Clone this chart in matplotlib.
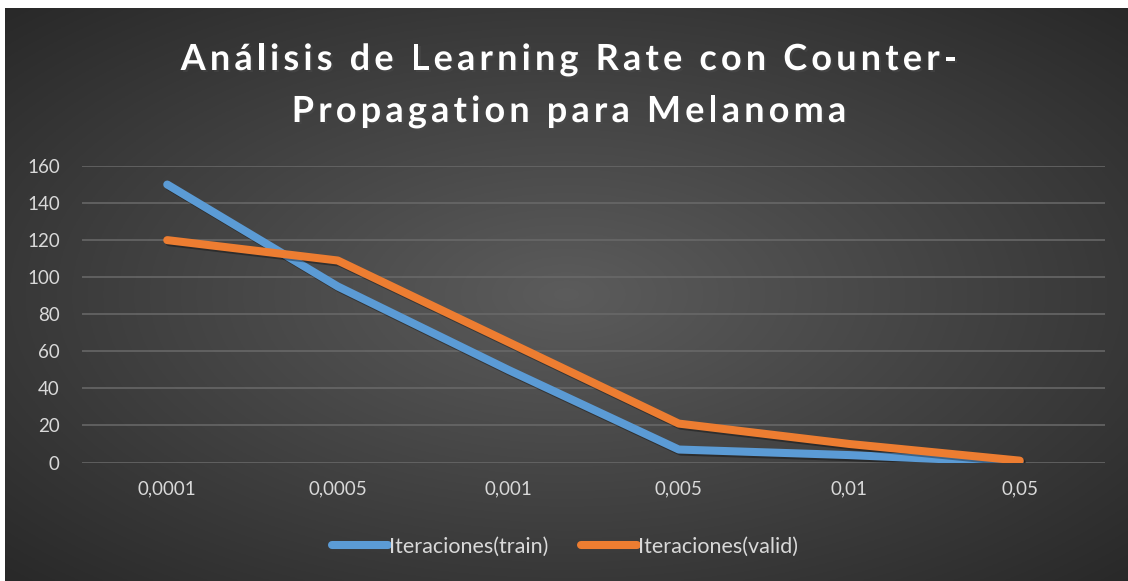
import numpy as np
import matplotlib
matplotlib.use('Agg')
import matplotlib.pyplot as plt
import matplotlib.patheffects as pe
from matplotlib.textpath import TextPath
from matplotlib.patches import PathPatch
from matplotlib.font_manager import FontProperties, findfont, get_font

# data
learning_rates = ['0,0001', '0,0005', '0,001', '0,005', '0,01', '0,05']
iter_train = [150, 95, 50, 7, 4, 0]
iter_valid = [120, 109, 65, 21, 10, 1]
y_ticks = [0, 20, 40, 60, 80, 100, 120, 140, 160]
title_lines = ['Análisis de Learning Rate con Counter-', 'Propagation para Melanoma']

plt.rcParams['font.family'] = ['Lato', 'DejaVu Sans']

W, H = 1128, 581
fig = plt.figure(figsize=(W / 100, H / 100), dpi=100)
fig.patch.set_facecolor('white')

# dark radial gradient background (Excel style)
bg = fig.add_axes([5 / W, 0, 1 - 5 / W, (H - 8) / H])
yy, xx = np.mgrid[-1:1:300j, -1:1:600j]
r = np.sqrt(xx ** 2 + yy ** 2) / np.sqrt(2)
shade = 0.36 - 0.2 * r
img = np.dstack([shade, shade, shade])
bg.imshow(img, aspect='auto', extent=[0, 1, 0, 1])
bg.axis('off')

ax = fig.add_axes([82 / W, 1 - 462.5 / H, (1105 - 82) / W, (462.5 - 166) / H])
ax.set_facecolor('none')
x = np.arange(len(learning_rates))

shadow = [pe.SimpleLineShadow(offset=(1.5, -1.5), shadow_color='black', alpha=0.35), pe.Normal()]
ax.plot(x, iter_train, color='#5B9BD5', lw=5.8, solid_capstyle='round',
        solid_joinstyle='round', label='Iteraciones(train)', path_effects=shadow, zorder=3)
ax.plot(x, iter_valid, color='#ED7D31', lw=5.8, solid_capstyle='round',
        solid_joinstyle='round', label='Iteraciones(valid)', path_effects=shadow, zorder=4)

ax.set_xlim(-0.5, len(learning_rates) - 0.5)
ax.set_ylim(0, 160)
ax.set_yticks(y_ticks)
ax.set_xticks(x)
ax.set_xticklabels(learning_rates)
ax.grid(axis='y', color='#6a6a6a', lw=1.1)
ax.set_axisbelow(True)
for s in ax.spines.values():
    s.set_visible(False)
ax.tick_params(length=0, colors='#d9d9d9', labelsize=13.5)
ax.tick_params(axis='x', pad=13)
ax.tick_params(axis='y', pad=16)


# title with letter spacing, drawn as text paths in pixel coordinates
def spaced_text(s, xc, baseline, size_px, spacing):
    prop = FontProperties(family='Lato', weight='bold')
    font = get_font(findfont(prop))
    font.set_size(size_px, 72)
    advs = []
    for c in s:
        g = font.load_char(ord(c))
        advs.append(g.linearHoriAdvance / 65536)
    total = sum(advs) + spacing * (len(s) - 1)
    xpos = xc - total / 2
    for c, a in zip(s, advs):
        if c != ' ':
            tp = TextPath((xpos, H - baseline), c, size=size_px, prop=prop)
            patch = PathPatch(tp, facecolor='white', edgecolor='none', transform=None,
                              path_effects=[pe.SimplePatchShadow(offset=(1.5, -1.5), alpha=0.45), pe.Normal()])
            fig.add_artist(patch)
        xpos += a + spacing


spaced_text(title_lines[0], 569, 70, 36, 4.2)
spaced_text(title_lines[1], 569, 122, 36, 4.2)

leg = fig.legend(loc='center', bbox_to_anchor=(565 / W, 1 - 547 / H), ncol=2, frameon=False,
                 fontsize=15.5, handlelength=2.6, handletextpad=0.05, columnspacing=1.5)
for t in leg.get_texts():
    t.set_color('#d9d9d9')
for h in leg.get_lines():
    h.set_path_effects([])

fig.savefig('out.png', dpi=100, facecolor=fig.get_facecolor())
